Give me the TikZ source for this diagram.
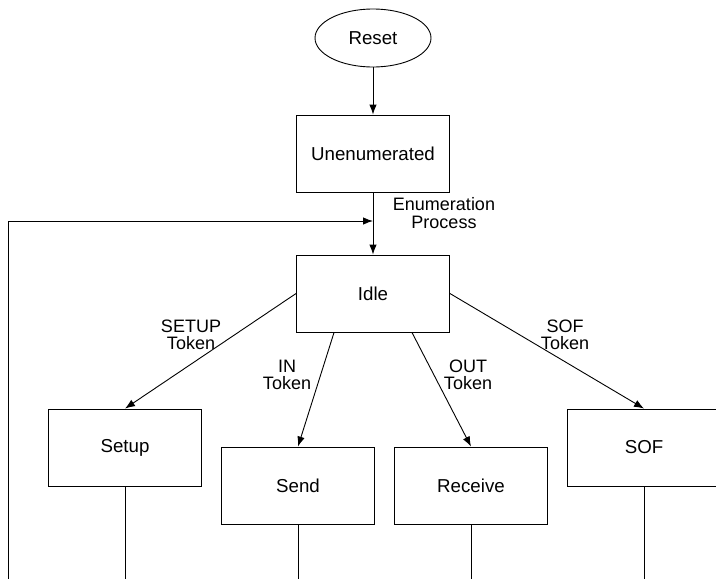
\documentclass[tikz,border=0pt]{standalone}
\usepackage{fontspec}
\setmainfont{Liberation Sans}
\usetikzlibrary{arrows.meta,shapes.geometric}
\begin{document}
\begin{tikzpicture}[x=1pt,y=-1pt,
  every node/.style={font=\fontsize{18.7}{18}\selectfont},
  box/.style={draw,line width=0.9pt,minimum width=153pt,minimum height=77pt,inner sep=0pt},
  st/.style={draw,ellipse,line width=0.9pt,minimum width=116pt,minimum height=58pt,inner sep=0pt},
  lbl/.style={align=center,inner sep=0pt,font=\fontsize{18}{17.5}\selectfont},
  arr/.style={line width=0.9pt,-{Latex[length=10pt,width=7.5pt]}},
  ln/.style={line width=0.9pt}]
\clip (0,0) rectangle (716,579);
\node[st] (reset) at (373,38) {Reset};
\node[box] (unen) at (373,153.5) {Unenumerated};
\node[box] (idle) at (373,293.5) {Idle};
\node[box] (setup) at (125,447.5) {Setup};
\node[box] (send) at (298,485.5) {Send};
\node[box] (recv) at (471,485.5) {Receive};
\node[box] (sof) at (644,447.5) {SOF};
\coordinate (bottom) at (0,579);
\coordinate (fbstart) at (8,579);
\coordinate (fbend) at (373,221);
\draw[arr] (reset) -- (unen);
\draw[arr] (unen) -- (idle);
\draw[arr] (fbstart) |- (fbend);
\draw[arr] (idle.west) -- (setup.north);
\draw[arr] (idle.-135) -- (send.north);
\draw[arr] (idle.-45) -- (recv.north);
\draw[arr] (idle.east) -- (sof.north);
\draw[ln] (setup.south) -- (setup.south |- bottom);
\draw[ln] (send.south) -- (send.south |- bottom);
\draw[ln] (recv.south) -- (recv.south |- bottom);
\draw[ln] (sof.south) -- (sof.south |- bottom);
\node[lbl] (lenum) at (444,213) {Enumeration\\Process};
\node[lbl] (lsetup) at (191,335) {SETUP\\Token};
\node[lbl] (lin) at (287,375) {IN\\Token};
\node[lbl] (lout) at (468,375) {OUT\\Token};
\node[lbl] (lsof) at (565,335) {SOF\\Token};
\end{tikzpicture}
\end{document}
